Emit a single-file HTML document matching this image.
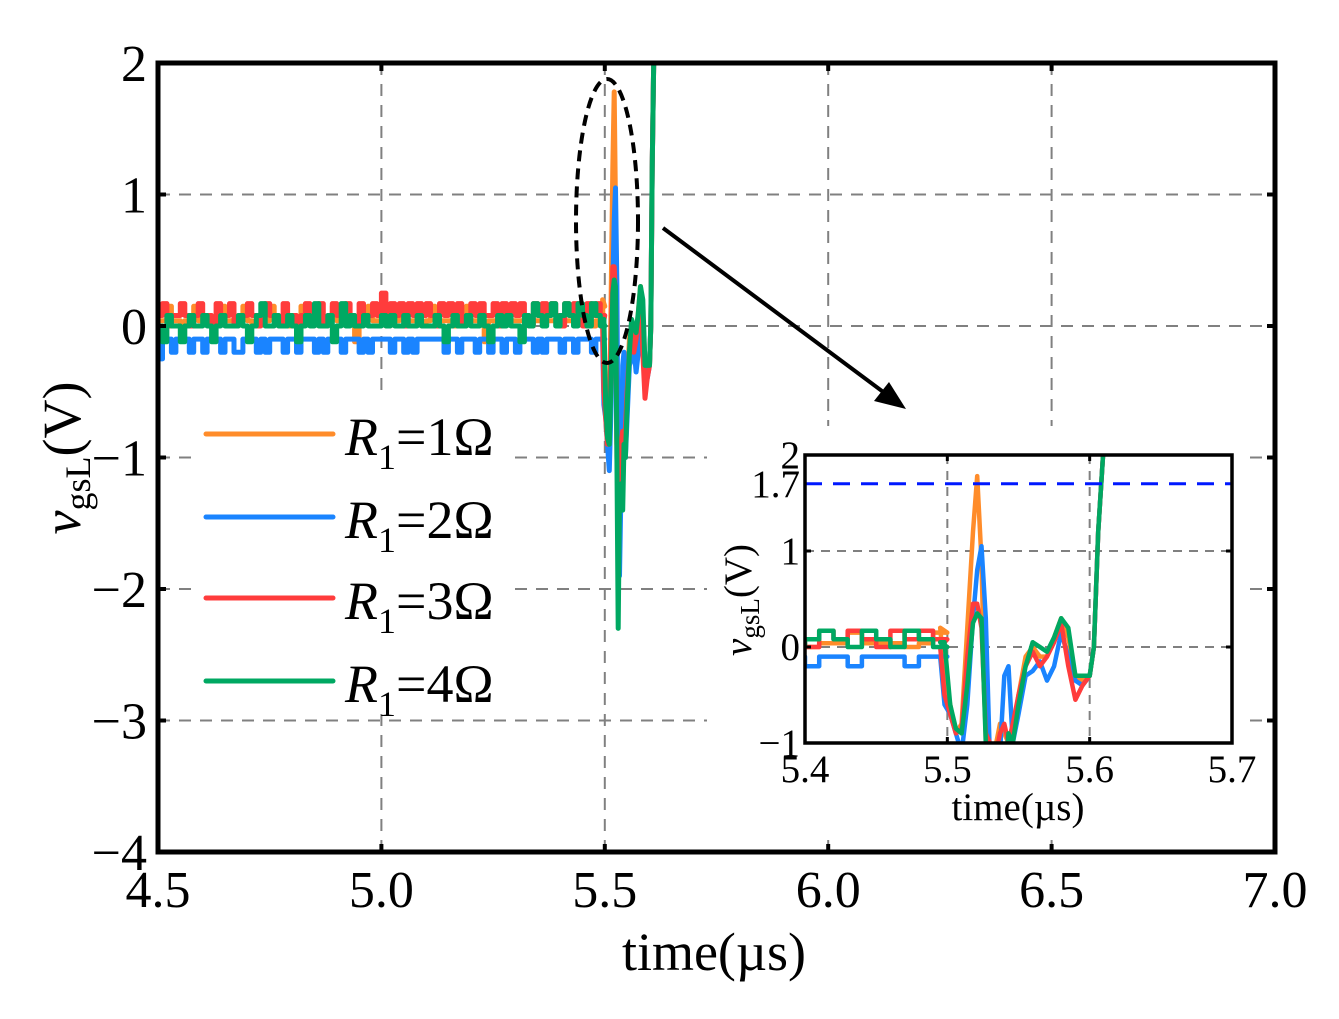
<!DOCTYPE html>
<html><head><meta charset="utf-8"><style>
html,body{margin:0;padding:0;background:#fff}
svg{display:block;font-family:"Liberation Serif","DejaVu Serif",serif}
</style></head><body>
<svg id="chart" width="1339" height="1019" viewBox="0 0 1339 1019"></svg>
<script>
const mainXTicks=[4.5,5.0,5.5,6.0,6.5,7.0];
const mainXLabels=["4.5","5.0","5.5","6.0","6.5","7.0"];
const mainYTicks=[2,1,0,-1,-2,-3,-4];
const mainYLabels=["2","1","0","\u22121","\u22122","\u22123","\u22124"];
const insetXTicks=[5.4,5.5,5.6,5.7];
const insetXLabels=["5.4","5.5","5.6","5.7"];
const insetYTicks=[2,1.7,1,0,-1];
const insetYLabels=["2","1.7","1","0","\u22121"];
const threshold=1.7;
const seriesNames=["R1=1Ω","R1=2Ω","R1=3Ω","R1=4Ω"];
const seriesColors=["#ff8c2a","#1a84ff","#ff3c3c","#00a862"];
// flat part: 4.50 .. 5.49 step 0.01
const flatStart=4.5, flatStep=0.01;
const flatOrange=[0.04,0.04,0.15,0.04,0.04,0.0,0.04,0.04,0.15,0.04,0.04,0.04,0.0,0.04,0.15,0.04,0.04,0.04,0.04,0.15,0.04,0.0,0.04,0.04,0.04,0.15,0.04,0.04,0.04,0.0,0.04,0.04,0.15,0.04,0.04,0.04,0.0,0.04,0.04,0.15,0.04,0.04,0.04,0.04,-0.12,0.04,0.04,0.15,0.04,0.04,0.04,0.0,0.04,0.04,0.15,0.04,0.04,0.04,0.04,0.0,0.04,0.15,0.04,0.04,0.04,0.04,0.0,0.04,0.04,0.15,0.04,0.04,0.04,-0.12,0.04,0.04,0.0,0.04,0.15,0.04,0.04,0.04,0.04,0.0,0.04,0.04,0.15,0.04,0.04,0.04,0.0,0.04,0.04,0.15,0.04,0.04,0.04,0.0,0.04,0.15];
const flatBlue=[-0.25,-0.1,-0.1,-0.2,-0.1,-0.1,-0.1,-0.2,-0.1,-0.1,-0.2,-0.1,-0.1,-0.1,-0.2,-0.1,-0.1,-0.2,-0.2,-0.1,-0.1,-0.1,-0.2,-0.1,-0.2,-0.1,-0.1,-0.1,-0.2,-0.1,-0.1,-0.2,-0.1,-0.1,-0.1,-0.2,-0.1,-0.2,-0.1,-0.1,-0.1,-0.2,-0.1,-0.1,-0.1,-0.2,-0.1,-0.2,-0.1,-0.1,-0.1,-0.1,-0.2,-0.1,-0.1,-0.2,-0.1,-0.2,-0.1,-0.1,-0.1,-0.1,-0.1,-0.1,-0.2,-0.1,-0.1,-0.2,-0.1,-0.1,-0.1,-0.2,-0.1,-0.1,-0.2,-0.1,-0.1,-0.2,-0.1,-0.1,-0.2,-0.1,-0.1,-0.1,-0.2,-0.1,-0.2,-0.1,-0.1,-0.1,-0.2,-0.1,-0.1,-0.2,-0.1,-0.1,-0.1,-0.2,-0.1,-0.1];
const flatRed=[0.08,0.17,0.0,0.08,0.08,0.17,0.08,0.0,0.08,0.17,0.08,0.08,0.0,0.17,0.08,0.08,0.17,0.0,0.08,0.08,0.17,0.08,0.0,0.08,0.17,0.08,0.08,0.0,0.17,0.08,0.08,0.0,0.08,0.17,0.08,0.08,0.17,0.0,0.08,0.17,0.08,0.08,0.17,0.08,0.0,0.17,0.08,0.08,0.17,0.08,0.25,0.08,0.17,0.08,0.17,0.0,0.17,0.08,0.17,0.08,0.17,0.08,0.0,0.17,0.08,0.17,0.08,0.17,0.0,0.08,0.17,0.08,0.17,0.08,0.08,0.17,0.0,0.17,0.08,0.17,0.08,0.17,0.08,0.0,0.17,0.08,0.17,0.08,0.17,0.08,0.0,0.17,0.08,0.17,0.08,0.0,0.17,0.08,0.17,0.08];
const flatGreen=[0.0,-0.12,0.08,0.0,0.0,-0.12,0.0,0.08,0.0,0.0,0.08,0.0,-0.12,0.0,0.08,0.0,0.0,0.0,0.08,0.0,-0.12,0.0,0.08,0.17,0.0,0.0,0.08,0.0,0.0,0.08,0.0,-0.12,0.0,0.08,0.0,0.17,0.0,0.0,0.08,-0.12,0.0,0.17,0.0,0.08,0.0,0.0,0.08,0.0,0.0,0.0,0.08,0.0,0.08,0.0,0.0,0.08,0.0,0.0,0.08,0.0,0.0,0.0,0.08,0.0,-0.12,0.0,0.08,0.0,0.0,0.08,0.0,0.0,0.08,0.0,-0.12,0.0,0.08,0.0,0.08,0.0,0.0,-0.12,0.08,0.0,0.17,0.08,0.0,0.08,0.17,0.0,0.08,0.17,0.08,0.0,0.17,0.08,0.0,0.17,0.08,0.0];
// transient part
const tTimes=[5.495,5.498,5.502,5.506,5.510,5.514,5.518,5.521,5.524,5.527,5.530,5.533,5.537,5.540,5.543,5.546,5.550,5.555,5.560,5.565,5.570,5.575,5.580,5.585,5.590,5.595,5.600,5.603,5.606,5.612];
const tOrange=[0.2,-0.3,-0.6,-0.9,-0.8,0.2,1.2,1.78,0.9,-1.0,-1.3,-1.1,-0.8,-0.9,-1.0,-0.9,-0.5,-0.1,0.0,-0.1,-0.1,0.1,0.3,0.1,-0.3,-0.35,-0.3,0.0,1.2,2.6];
const tBlue=[-0.1,-0.6,-0.7,-0.9,-1.1,-0.6,0.3,0.8,1.05,0.3,-1.2,-1.9,-1.1,-0.3,-0.2,-1.0,-0.7,-0.3,-0.25,-0.15,-0.35,-0.2,0.15,-0.1,-0.35,-0.4,-0.3,0.0,1.2,2.6];
const tRed=[0.0,-0.5,-0.7,-0.9,-0.85,-0.1,0.45,0.45,0.2,-0.9,-1.0,-1.2,-0.9,-0.8,-1.0,-0.8,-0.5,-0.2,-0.05,-0.2,-0.1,0.05,0.25,-0.2,-0.55,-0.4,-0.3,0.0,1.2,2.6];
const tGreen=[0.05,0.05,-0.6,-0.85,-0.9,-0.4,0.25,0.35,0.3,-1.0,-2.3,-1.3,-1.2,-1.4,-0.9,-1.0,-0.6,-0.2,0.05,0.0,-0.05,0.1,0.3,0.2,-0.3,-0.3,-0.3,0.0,1.2,2.6];

const NS="http://www.w3.org/2000/svg";
const svg=document.getElementById('chart');
function mk(tag,attrs,parent){const e=document.createElementNS(NS,tag);for(const k in attrs)e.setAttribute(k,attrs[k]);(parent||svg).appendChild(e);return e;}

const M={x0:158,x1:1275,y0:63,y1:852,xmin:4.5,xmax:7.0,ymin:-4,ymax:2};
const I={x0:805,x1:1232,y0:455,y1:743,xmin:5.4,xmax:5.7,ymin:-1,ymax:2};
function sx(a,v){return a.x0+(v-a.xmin)/(a.xmax-a.xmin)*(a.x1-a.x0);}
function sy(a,v){return a.y1-(v-a.ymin)/(a.ymax-a.ymin)*(a.y1-a.y0);}

const flats=[flatOrange,flatBlue,flatRed,flatGreen];
const trans=[tOrange,tBlue,tRed,tGreen];
function seriesPoints(i){
  const pts=[];
  flats[i].forEach((v,k)=>{const t=flatStart+k*flatStep;pts.push([t,v]);pts.push([t+flatStep,v]);});
  tTimes.forEach((t,k)=>pts.push([t,trans[i][k]]));
  return pts;
}

const defs=mk('defs',{});
const cp=mk('clipPath',{id:'mclip'},defs);mk('rect',{x:M.x0,y:M.y0,width:M.x1-M.x0,height:M.y1-M.y0},cp);
const cp2=mk('clipPath',{id:'iclip'},defs);mk('rect',{x:I.x0,y:I.y0,width:I.x1-I.x0,height:I.y1-I.y0},cp2);

const grid=mk('g',{stroke:'#808080','stroke-width':2,'stroke-dasharray':'12 9',fill:'none'});


mainXTicks.slice(1,-1).forEach(v=>mk('line',{x1:sx(M,v),x2:sx(M,v),y1:M.y0,y2:M.y1},grid));
mainYTicks.slice(1,-1).forEach(v=>mk('line',{x1:M.x0,x2:M.x1,y1:sy(M,v),y2:sy(M,v)},grid));

const mg=mk('g',{'clip-path':'url(#mclip)',fill:'none','stroke-width':5,'stroke-linejoin':'round'});
for(let i=0;i<4;i++){
  const p=mk('polyline',{points:seriesPoints(i).map(q=>sx(M,q[0]).toFixed(1)+','+sy(M,q[1]).toFixed(1)).join(' '),stroke:seriesColors[i]},mg);
  
  
}

const lg=mk('g',{});


mk('rect',{x:197,y:396,width:315,height:318,fill:'#fff'},lg);
const legY=[434,517,598,681];
for(let i=0;i<4;i++){
  const e=mk('g',{},lg);
  
  
  mk('line',{x1:206,x2:333,y1:legY[i],y2:legY[i],stroke:seriesColors[i],'stroke-width':5,'stroke-linecap':'round'},e);
  const t=mk('text',{x:345,y:legY[i]+21,'font-size':54,fill:'#000'},e);
  t.innerHTML='<tspan font-style="italic">R</tspan><tspan font-size="36" dy="14">1</tspan><tspan dy="-14">='+(i+1)+'Ω</tspan>';
}

const fr=mk('rect',{x:M.x0,y:M.y0,width:M.x1-M.x0,height:M.y1-M.y0,fill:'none',stroke:'#000','stroke-width':5});


const tk=mk('g',{stroke:'#000','stroke-width':4});
mainXTicks.forEach(v=>{mk('line',{x1:sx(M,v),x2:sx(M,v),y1:M.y1,y2:M.y1-8},tk);mk('line',{x1:sx(M,v),x2:sx(M,v),y1:M.y0,y2:M.y0+8},tk);});
mainYTicks.forEach(v=>{mk('line',{x1:M.x0,x2:M.x0+8,y1:sy(M,v),y2:sy(M,v)},tk);mk('line',{x1:M.x1,x2:M.x1-8,y1:sy(M,v),y2:sy(M,v)},tk);});
const xl=mk('g',{'font-size':52,'text-anchor':'middle',fill:'#000'});


mainXTicks.forEach((v,i)=>{const t=mk('text',{x:sx(M,v),y:907},xl);t.textContent=mainXLabels[i];});
const yl=mk('g',{'font-size':52,'text-anchor':'end',fill:'#000'});


mainYTicks.forEach((v,i)=>{const t=mk('text',{x:147,y:sy(M,v)+18},yl);t.textContent=mainYLabels[i];});
const xt=mk('text',{x:714,y:970,'font-size':54,'text-anchor':'middle',fill:'#000'});
xt.textContent='time(µs)';


const yt=mk('text',{transform:'translate(80,458) rotate(-90)','font-size':54,'text-anchor':'middle',fill:'#000'});
yt.innerHTML='<tspan font-style="italic">v</tspan><tspan font-size="36" dy="10">gsL</tspan><tspan dy="-10">(V)</tspan>';



const el=mk('ellipse',{cx:607,cy:221,rx:31,ry:142,fill:'none',stroke:'#000','stroke-width':4,'stroke-dasharray':'11 7'});


const ar=mk('g',{});


mk('line',{x1:663,y1:228,x2:890,y2:397,stroke:'#000','stroke-width':4},ar);
mk('polygon',{points:'906,409 874,401 889,382',fill:'#000'},ar);

const ig=mk('g',{});


mk('rect',{x:707,y:426,width:540,height:410,fill:'#fff'},ig);
const igrid=mk('g',{stroke:'#808080','stroke-width':2,'stroke-dasharray':'9 7'},ig);
insetXTicks.slice(1,-1).forEach(v=>mk('line',{x1:sx(I,v),x2:sx(I,v),y1:I.y0,y2:I.y1},igrid));
[1,0].forEach(v=>mk('line',{x1:I.x0,x2:I.x1,y1:sy(I,v),y2:sy(I,v)},igrid));
const isg=mk('g',{'clip-path':'url(#iclip)',fill:'none','stroke-width':4.5,'stroke-linejoin':'round'},ig);
for(let i=0;i<4;i++){
  const p=mk('polyline',{points:seriesPoints(i).filter(q=>q[0]>=5.39).map(q=>sx(I,q[0]).toFixed(1)+','+sy(I,q[1]).toFixed(1)).join(' '),stroke:seriesColors[i]},isg);
  
  
}
const th=mk('line',{x1:I.x0,x2:I.x1,y1:sy(I,threshold),y2:sy(I,threshold),stroke:'#0018ff','stroke-width':3,'stroke-dasharray':'17 11'},ig);


mk('rect',{x:I.x0,y:I.y0,width:I.x1-I.x0,height:I.y1-I.y0,fill:'none',stroke:'#000','stroke-width':3.5},ig);
const itk=mk('g',{stroke:'#000','stroke-width':3},ig);
insetXTicks.forEach(v=>{mk('line',{x1:sx(I,v),x2:sx(I,v),y1:I.y1,y2:I.y1-6},itk);mk('line',{x1:sx(I,v),x2:sx(I,v),y1:I.y0,y2:I.y0+6},itk);});
[2,1,0,-1].forEach(v=>{mk('line',{x1:I.x0,x2:I.x0+6,y1:sy(I,v),y2:sy(I,v)},itk);mk('line',{x1:I.x1,x2:I.x1-6,y1:sy(I,v),y2:sy(I,v)},itk);});
insetXTicks.forEach((v,i)=>{const t=mk('text',{x:sx(I,v),y:782,'font-size':39,'text-anchor':'middle'},ig);t.textContent=insetXLabels[i];});
insetYTicks.forEach((v,i)=>{const t=mk('text',{x:800,y:sy(I,v)+13,'font-size':39,'text-anchor':'end'},ig);t.textContent=insetYLabels[i];});
const ixt=mk('text',{x:1018,y:820,'font-size':39,'text-anchor':'middle'},ig);
ixt.textContent='time(µs)';
const iyt=mk('text',{transform:'translate(751,600) rotate(-90)','font-size':39,'text-anchor':'middle'},ig);
iyt.innerHTML='<tspan font-style="italic">v</tspan><tspan font-size="27" dy="8">gsL</tspan><tspan dy="-8">(V)</tspan>';
</script>
</body></html>
